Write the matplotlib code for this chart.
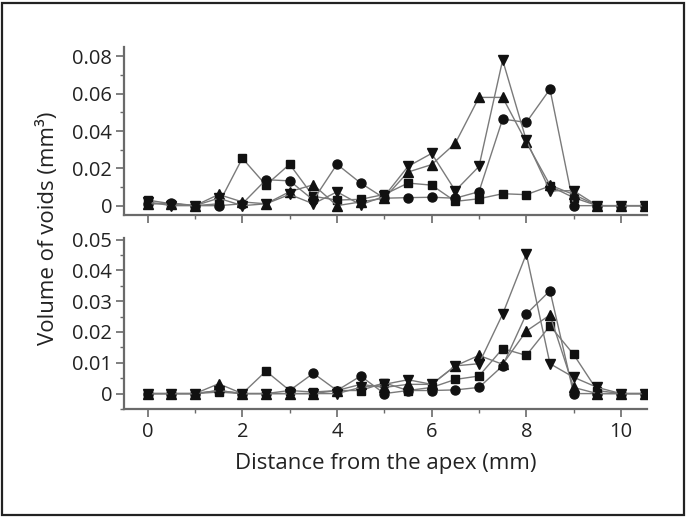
import matplotlib
matplotlib.use('Agg')
import matplotlib.pyplot as plt
from matplotlib.ticker import MultipleLocator, FuncFormatter
from matplotlib.patches import Rectangle
import numpy as np

plt.rcParams['font.family'] = ['Open Sans', 'DejaVu Sans']

# distance from the apex (mm)
distance = [0, 0.5, 1, 1.5, 2, 2.5, 3, 3.5, 4, 4.5, 5, 5.5, 6, 6.5, 7, 7.5, 8, 8.5, 9, 9.5, 10, 10.5]

# upper panel
top_square = [0.003, 0.001, 0.0, 0.001, 0.0254, 0.011, 0.0222, 0.005, 0.003, 0.0034, 0.006,
              0.0121, 0.011, 0.0023, 0.0037, 0.0064, 0.0059, 0.0105, 0.0043, 0.0, 0.0, 0.0]
top_circle = [0.001, 0.0015, 0.0, 0.0, 0.001, 0.0139, 0.0133, 0.003, 0.0222, 0.0121, 0.004,
              0.0043, 0.0045, 0.004, 0.0075, 0.0464, 0.0446, 0.0624, 0.0, 0.0, 0.0, 0.0]
top_up = [0.001, 0.001, 0.0, 0.006, 0.002, 0.001, 0.0075, 0.0112, 0.0, 0.002, 0.004,
          0.018, 0.022, 0.0334, 0.058, 0.058, 0.034, 0.011, 0.006, 0.0, 0.0, 0.0]
top_down = [0.002, 0.0, 0.0, 0.004, 0.0, 0.001, 0.006, 0.001, 0.0074, 0.0005, 0.005,
            0.021, 0.028, 0.008, 0.021, 0.078, 0.035, 0.008, 0.008, 0.0, 0.0, 0.0]

# lower panel
bot_square = [0.0, 0.0, 0.0, 0.0005, 0.0, 0.0073, 0.001, 0.0005, 0.001, 0.001, 0.0035,
              0.001, 0.002, 0.0046, 0.0057, 0.0146, 0.0124, 0.022, 0.0127, 0.001, 0.0, 0.0]
bot_circle = [0.0, 0.0, 0.0, 0.001, 0.0, 0.0, 0.001, 0.0066, 0.001, 0.0057, 0.0,
              0.001, 0.001, 0.0012, 0.002, 0.009, 0.0258, 0.0334, 0.0, 0.0, 0.0, 0.0]
bot_up = [0.0, 0.0, 0.0, 0.0032, 0.0, 0.0, 0.0, 0.0, 0.001, 0.003, 0.002,
          0.003, 0.003, 0.009, 0.0124, 0.0095, 0.0203, 0.0255, 0.002, 0.0, 0.0, 0.0]
bot_down = [0.0, 0.0, 0.0, 0.001, 0.0, 0.0, 0.0, 0.0, 0.0, 0.002, 0.003,
            0.0045, 0.003, 0.009, 0.0097, 0.0258, 0.0453, 0.0097, 0.0053, 0.002, 0.0, 0.0]

W, H = 687, 517
fig = plt.figure(figsize=(W / 100, H / 100), dpi=100)

ax1 = fig.add_axes([124 / W, 1 - 215 / H, (647 - 124) / W, (215 - 47) / H])
ax2 = fig.add_axes([124 / W, 1 - 409 / H, (647 - 124) / W, (409 - 238) / H])

markers = [('s', 5.5), ('o', 6.5), ('^', 6.5), ('v', 6.5)]


def fmt(v, pos):
    if abs(v) < 1e-9:
        return '0'
    return f'{v:.2f}'


def draw(ax, series, ylim, major, minor):
    for ys, (m, ms) in zip(series, markers):
        ax.plot(distance, ys, color='#7a7a7a', lw=1.0, marker=m, ms=ms,
                mfc='#111111', mec='#111111', zorder=3)
    ax.set_xlim(-0.5, 10.55)
    ax.set_ylim(*ylim)
    for s in ['top', 'right']:
        ax.spines[s].set_visible(False)
    for s in ['left', 'bottom']:
        ax.spines[s].set_color('#6a6a6a')
        ax.spines[s].set_linewidth(1.6)
    ax.xaxis.set_major_locator(MultipleLocator(2))
    ax.xaxis.set_minor_locator(MultipleLocator(1))
    ax.yaxis.set_major_locator(MultipleLocator(major))
    ax.yaxis.set_minor_locator(MultipleLocator(minor))
    ax.yaxis.set_major_formatter(FuncFormatter(fmt))
    ax.tick_params(which='major', direction='out', length=5.5, width=1.2,
                   color='#6a6a6a', labelsize=14.5, labelcolor='#222222', pad=3)
    ax.tick_params(which='minor', direction='out', length=3, width=1.0, color='#6a6a6a')
    ax.tick_params(axis='x', which='major', pad=4)


draw(ax1, [top_square, top_circle, top_up, top_down], (-0.005, 0.085), 0.02, 0.01)
draw(ax2, [bot_square, bot_circle, bot_up, bot_down], (-0.005, 0.0505), 0.01, 0.005)
ax1.tick_params(axis='x', labelbottom=False)

fig.text(386 / W, 1 - 464 / H, 'Distance from the apex (mm)', ha='center', va='center',
         fontsize=16, color='#222222')
fig.text(48 / W, 1 - 228 / H, 'Volume of voids (mm³)', ha='center', va='center',
         rotation=90, fontsize=16, color='#222222')

fig.add_artist(Rectangle((2 / W, 2 / H), (W - 5) / W, (H - 5) / H, transform=fig.transFigure,
                         fill=False, edgecolor='#222222', lw=1.6))

fig.savefig('out.png', dpi=100)
